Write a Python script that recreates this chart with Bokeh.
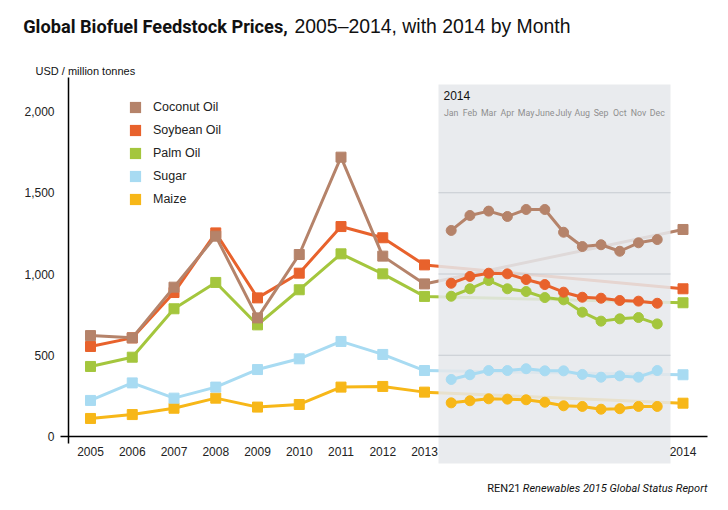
from bokeh.plotting import figure
from bokeh.models import ColumnDataSource, Legend, LegendItem
from bokeh.core.properties import value
from bokeh.embed import file_html
from bokeh.resources import INLINE

# ---------------- data ----------------
years = [2005, 2006, 2007, 2008, 2009, 2010, 2011, 2012, 2013, 2014]
year_labels = ["2005", "2006", "2007", "2008", "2009", "2010", "2011", "2012", "2013", "2014"]
months = ["Jan", "Feb", "Mar", "Apr", "May", "June", "July", "Aug", "Sep", "Oct", "Nov", "Dec"]
series_names = ["Coconut Oil", "Soybean Oil", "Palm Oil", "Sugar", "Maize"]

coconut_annual = [621, 607, 919, 1233, 730, 1120, 1719, 1110, 939, 1274]
soybean_annual = [554, 607, 886, 1253, 853, 1005, 1292, 1223, 1056, 909]
palm_annual = [431, 488, 786, 948, 687, 903, 1124, 1001, 862, 823]
sugar_annual = [222, 330, 236, 304, 412, 478, 585, 505, 406, 380]
maize_annual = [111, 135, 174, 236, 181, 197, 304, 308, 273, 205]

coconut_2014 = [1268, 1360, 1387, 1354, 1397, 1397, 1257, 1169, 1180, 1140, 1192, 1212]
soybean_2014 = [943, 985, 1005, 1001, 966, 935, 888, 857, 851, 837, 833, 820]
palm_2014 = [863, 909, 960, 909, 892, 855, 841, 765, 710, 724, 732, 693]
sugar_2014 = [351, 380, 406, 406, 417, 404, 404, 382, 365, 373, 365, 406]
maize_2014 = [207, 220, 232, 230, 226, 211, 189, 185, 168, 171, 185, 185]

y_ticks = [0, 500, 1000, 1500, 2000]
y_tick_labels = ["0", "500", "1,000", "1,500", "2,000"]

title_bold = "Global Biofuel Feedstock Prices,"
title_rest = "2005\u20132014, with 2014 by Month"
unit_label = "USD / million tonnes"
panel_label = "2014"
source_org = "REN21"
source_title = "Renewables 2015 Global Status Report"

# ---------------- layout helpers (pixel -> data) ----------------
PX_PER_YEAR = 41.75
PX_PER_UNIT = 0.1625
X0_PX, Y0_PX = 90, 436     # pixel of (2005, 0)
W, H = 712, 494


def dx(px):
    return 2005 + (px - X0_PX) / PX_PER_YEAR


def dy(py):
    return (Y0_PX - py) / PX_PER_UNIT


ANNUAL_2014_POS = dx(682.5)
MONTH_START, MONTH_STEP = dx(450.7), 18.73 / PX_PER_YEAR
annual_x = years[:-1] + [ANNUAL_2014_POS]
month_x = [MONTH_START + MONTH_STEP * i for i in range(len(months))]

colors = {
    "Coconut Oil": "#b5836a",
    "Soybean Oil": "#e8622c",
    "Palm Oil": "#a4c63d",
    "Sugar": "#a8dbf2",
    "Maize": "#f7b718",
}
annual = {"Coconut Oil": coconut_annual, "Soybean Oil": soybean_annual,
          "Palm Oil": palm_annual, "Sugar": sugar_annual, "Maize": maize_annual}
monthly = {"Coconut Oil": coconut_2014, "Soybean Oil": soybean_2014,
           "Palm Oil": palm_2014, "Sugar": sugar_2014, "Maize": maize_2014}

SANS = "Liberation Sans"
ROBOTO = "Roboto"

p = figure(width=W, height=H, output_backend="svg", toolbar_location=None,
           x_range=(dx(0), dx(W)), y_range=(dy(H), dy(0)),
           x_axis_location=None, y_axis_location=None, title=None,
           min_border=0)
p.outline_line_color = None
p.grid.visible = False
p.background_fill_color = "white"
p.border_fill_color = "white"

draw_order = ["Maize", "Sugar", "Palm Oil", "Soybean Oil", "Coconut Oil"]

# annual lines (2005-2013 + 2014 annual)
for name in draw_order:
    src = ColumnDataSource(dict(x=annual_x, y=annual[name]))
    p.line("x", "y", source=src, line_color=colors[name], line_width=3)
    p.scatter("x", "y", source=src, marker="square", size=10,
              fill_color=colors[name], line_color=colors[name])

# 2014 monthly panel (semi-opaque, fades the 2013->2014 annual links)
PANEL_LEFT, PANEL_RIGHT = dx(438), dx(670)
p.quad(left=PANEL_LEFT, right=PANEL_RIGHT, top=dy(84), bottom=dy(463),
       fill_color="#e5e8eb", fill_alpha=0.86, line_color=None)
grid_vals = y_ticks[1:4]
p.segment(x0=[PANEL_LEFT] * len(grid_vals), x1=[PANEL_RIGHT] * len(grid_vals),
          y0=grid_vals, y1=grid_vals, line_color="#c6cbd1", line_width=1)

for name in draw_order:
    src = ColumnDataSource(dict(x=month_x, y=monthly[name]))
    p.line("x", "y", source=src, line_color=colors[name], line_width=3)
    p.scatter("x", "y", source=src, marker="circle", size=10,
              fill_color=colors[name], line_color=colors[name])

# month labels and panel header
p.text(x=month_x, y=[dy(112)] * len(months), text=months,
       text_font=value(ROBOTO), text_font_size="8.8px", text_color="#8f8f8f",
       text_align="center", text_baseline="middle")
p.text(x=[dx(443)], y=[dy(95)], text=[panel_label], text_font=value(SANS),
       text_font_size="12px", text_color="#111111",
       text_align="left", text_baseline="middle")

# axes (lines + labels)
p.segment(x0=[dx(60)], x1=[dx(707)], y0=[0], y1=[0], line_color="black", line_width=1.5)
p.segment(x0=[dx(68)], x1=[dx(68)], y0=[dy(443)], y1=[dy(77)],
          line_color="black", line_width=1.5)
p.text(x=annual_x, y=[dy(451)] * len(years), text=year_labels,
       text_font=value(SANS), text_font_size="12px", text_color="#222222",
       text_align="center", text_baseline="middle")
p.text(x=[dx(54)] * len(y_ticks), y=y_ticks, text=y_tick_labels,
       text_font=value(SANS), text_font_size="12px", text_color="#222222",
       text_align="right", text_baseline="middle")

# title, unit label, source
p.text(x=[dx(22.7)], y=[dy(25.5)], text=[title_bold], text_font=value(ROBOTO),
       text_font_style="bold", text_font_size="18.2px", text_color="#111111",
       text_align="left", text_baseline="alphabetic")
p.text(x=[dx(294)], y=[dy(25.5)], text=[title_rest], text_font=value(SANS),
       text_font_size="19.4px", text_color="#111111",
       text_align="left", text_baseline="alphabetic")
p.text(x=[dx(35)], y=[dy(70.7)], text=[unit_label], text_font=value(SANS),
       text_font_size="11px", text_color="#111111",
       text_align="left", text_baseline="alphabetic")
p.text(x=[dx(707)], y=[dy(488)], text=[source_title], text_font=value(ROBOTO),
       text_font_style="italic", text_font_size="11px", text_color="#111111",
       text_align="right", text_baseline="middle")
p.text(x=[dx(520)], y=[dy(488)], text=[source_org], text_font=value(ROBOTO),
       text_font_size="11px", text_color="#111111",
       text_align="right", text_baseline="middle")

# legend (square swatches from zero-area quads)
items = []
for name in series_names:
    r = p.quad(left=[ANNUAL_2014_POS], right=[ANNUAL_2014_POS], top=[0], bottom=[0],
               fill_color=colors[name], line_color=None)
    items.append(LegendItem(label=name, renderers=[r]))
legend = Legend(items=items, location=(128, H - 213 + 7.5),
                orientation="vertical",
                glyph_width=14, glyph_height=14, label_height=14, label_width=75,
                spacing=9, padding=11, margin=0, label_standoff=11,
                label_text_font=SANS, label_text_font_size="12.5px",
                label_text_color="#222222", border_line_color=None,
                background_fill_color="white", background_fill_alpha=1.0)
p.add_layout(legend)

open("out.html", "w").write(file_html(p, INLINE))
